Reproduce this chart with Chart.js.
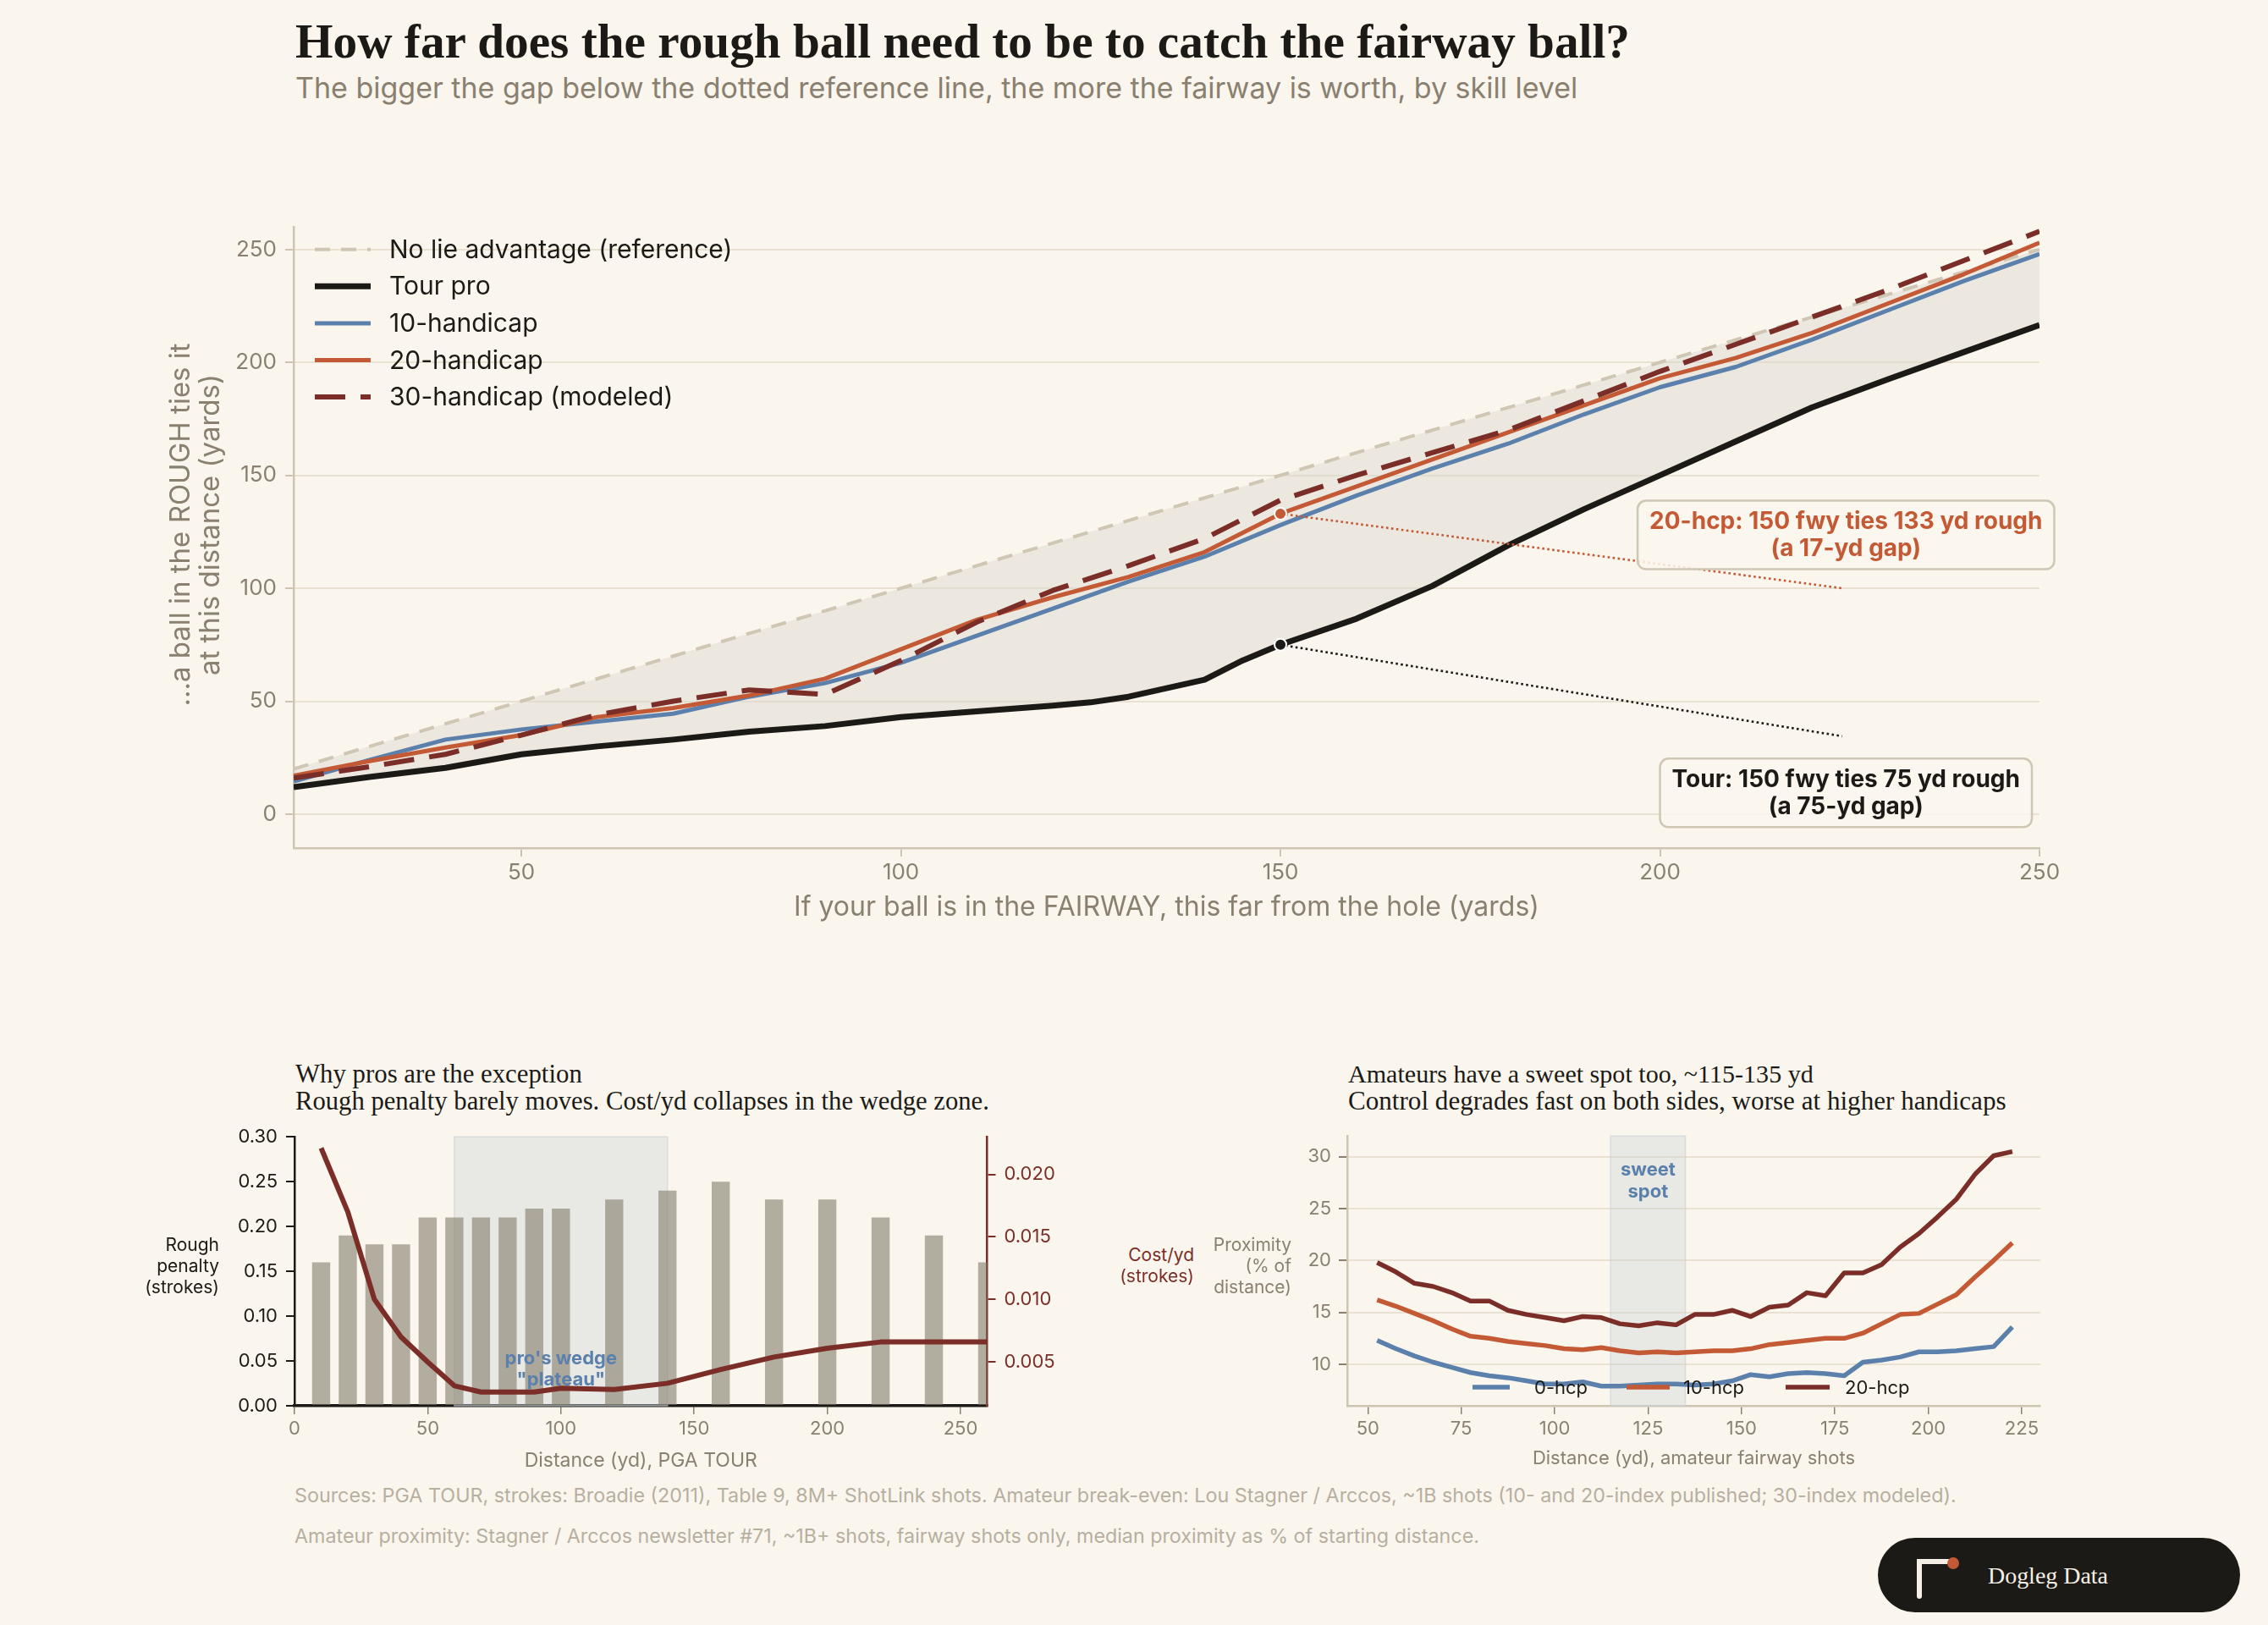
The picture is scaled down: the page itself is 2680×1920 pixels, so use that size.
<!DOCTYPE html>
<html>
<head>
<meta charset="utf-8">
<script src="https://cdn.jsdelivr.net/npm/chart.js@4.4.1/dist/chart.umd.min.js"></script>
<style>
html,body{margin:0;padding:0;background:#FAF6EE;}
#page{position:relative;width:2680px;height:1920px;overflow:hidden;background:#FAF6EE;}
.t{position:absolute;white-space:nowrap;line-height:1;}
canvas{position:absolute;display:block;}
</style>
</head>
<body>
<div id="page">
<canvas id="main" width="2320" height="880" style="left:180px;top:240px;width:2320px;height:880px"></canvas>
<canvas id="pro" width="1200" height="430" style="left:100px;top:1320px;width:1200px;height:430px"></canvas>
<canvas id="amt" width="980" height="430" style="left:1500px;top:1320px;width:980px;height:430px"></canvas>
<div id="logo" style="position:absolute;left:2219px;top:1817px;width:428px;height:88px;border-radius:44px;background:#1C1A16;">
  <svg width="428" height="88" style="position:absolute;left:0;top:0">
    <path d="M49 69 V28 H85" stroke="#F5F0E6" stroke-width="6" fill="none" stroke-linecap="round"/>
    <circle cx="89" cy="30" r="7" fill="#C45A35"/>
  </svg>
</div>
</div>
<script>
// ================= DATA =================
// Main chart: break-even rough distance for each fairway distance
const refX = [20, 250];
const refY = [20, 250];
const tourX = [20,30,40,50,60,70,80,90,100,110,120,125,130,140,145,150,160,170,180,190,200,210,220,230,240,250];
const tourY = [12,16.5,20.5,26.5,30,33,36.5,39,43,45.5,48,49.5,52,59.5,68,75,86.5,101,119,135,150,165,180,192.5,204.5,216.5];
const hcpX = [20,30,40,50,60,70,80,90,100,110,120,130,140,150,160,170,180,190,200,210,220,230,240,250];
const hcp10Y = [14.5,24,33,37.5,41,44.5,52,58,67,79,91,103,114,128,141,153,164,177,189,198,210,223,236,248];
const hcp20Y = [17,23.5,29.5,35,43,47,52.5,60,73,86,96,105,116,133,145,157,169,181,193,202,213,226,239,253];
const hcp30Y = [16,21,26.5,35,44,50,55,53,68,85,99,110,122,139,150,160,170,183,196,208,220,232,245,258];
const mainLabels = ['No lie advantage (reference)','Tour pro','10-handicap','20-handicap','30-handicap (modeled)'];
const mainXTicks = [50,100,150,200,250];
const mainYTicks = [0,50,100,150,200,250];
const mainYTitle = ['...a ball in the ROUGH ties it','at this distance (yards)'];

// Annotations (data units)
const annoSeries = [3, 1];
const annoAtX = [150, 150];
const annoAtY = [133, 75];
const annoTipX = [224, 224];
const annoTipY = [100, 34.5];
const annoBoxX = [224.5, 224.5];
const annoBoxY = [123.6, 9.4];
const annoText = [['20-hcp: 150 fwy ties 133 yd rough','(a 17-yd gap)'],['Tour: 150 fwy ties 75 yd rough','(a 75-yd gap)']];

// Bottom-left: PGA TOUR rough penalty and cost per yard
const proX = [10,20,30,40,50,60,70,80,90,100,120,140,160,180,200,220,240,260];
const roughPenalty = [0.16,0.19,0.18,0.18,0.21,0.21,0.21,0.21,0.22,0.22,0.23,0.24,0.25,0.23,0.23,0.21,0.19,0.16];
const costPerYd = [0.0221,0.0170,0.0100,0.0070,0.0050,0.0031,0.0026,0.0026,0.0026,0.0029,0.0028,0.0033,0.0044,0.0054,0.0061,0.0066,0.0066,0.0066];
const proXTicks = [0,50,100,150,200,250];
const penaltyTicks = [0,0.05,0.10,0.15,0.20,0.25,0.30];
const costTicks = [0.005,0.010,0.015,0.020];
const wedgeZone = [60, 140];
const wedgeLabel = ["pro's wedge", '"plateau"'];

// Bottom-right: amateur proximity as % of distance
const ampX = [52.5,57.5,62.5,67.5,72.5,77.5,82.5,87.5,92.5,97.5,102.5,107.5,112.5,117.5,122.5,127.5,132.5,137.5,142.5,147.5,152.5,157.5,162.5,167.5,172.5,177.5,182.5,187.5,192.5,197.5,202.5,207.5,212.5,217.5,222.5];
const prox0 = [12.3,11.5,10.8,10.2,9.7,9.2,8.9,8.7,8.4,8.1,8.1,8.3,7.9,7.9,8.0,8.1,8.1,8.0,8.1,8.4,9.0,8.8,9.1,9.2,9.1,8.9,10.2,10.4,10.7,11.2,11.2,11.3,11.5,11.7,13.6];
const prox10 = [16.2,15.6,14.9,14.2,13.4,12.7,12.5,12.2,12.0,11.8,11.5,11.4,11.6,11.3,11.1,11.2,11.1,11.2,11.3,11.3,11.5,11.9,12.1,12.3,12.5,12.5,13.0,13.9,14.8,14.9,15.8,16.7,18.4,20.0,21.7];
const prox20 = [19.8,18.9,17.8,17.5,16.9,16.1,16.1,15.2,14.8,14.5,14.2,14.6,14.5,13.9,13.7,14.0,13.8,14.8,14.8,15.2,14.6,15.5,15.7,16.9,16.6,18.8,18.8,19.6,21.3,22.6,24.2,25.9,28.3,30.1,30.5];
const ampLabels = ['0-hcp','10-hcp','20-hcp'];
const ampXTicks = [50,75,100,125,150,175,200,225];
const proxTicks = [10,15,20,25,30];
const sweetSpot = [115, 135];
const sweetLabel = ['sweet', 'spot'];

// ================= STYLE =================
const C = {ink:'#1C1A16', grey:'#8A8070', light:'#B7AF9F', axis:'#CDC4B2', grid:'#E9E1D1', ref:'#CFC6B4',
  fill:'rgba(222,218,210,0.5)', blue:'#5B80AC', orange:'#C45A35', dred:'#7A2E27',
  band:'rgba(208,212,214,0.42)', bandEdge:'rgba(200,208,214,0.6)', bar:'rgba(128,120,104,0.58)'};
const SANS = 'Inter, "Noto Sans", sans-serif';
const SERIF = '"Liberation Serif", "DejaVu Serif", serif';

// ================= HTML TEXT =================
const page = document.getElementById('page');
function addText(o){
  const el = document.createElement('div');
  el.className = 't';
  el.textContent = o.text;
  el.style.fontFamily = o.font || SANS;
  el.style.fontWeight = o.weight || 400;
  el.style.color = o.color;
  el.style.fontSize = o.size + 'px';
  (o.parent || page).appendChild(el);
  if (o.width) {
    const w = el.getBoundingClientRect().width;
    el.style.fontSize = (o.size * o.width / w) + 'px';
  }
  const fs = parseFloat(el.style.fontSize);
  el.style.top = (o.cy - fs * 0.5) + 'px';
  if (o.right !== undefined) {
    const w = el.getBoundingClientRect().width;
    el.style.left = (o.right - w) + 'px';
  } else {
    el.style.left = o.left + 'px';
  }
  return el;
}
addText({text:'How far does the rough ball need to be to catch the fairway ball?', font:SERIF, weight:700, color:C.ink, size:48, width:1577, left:349, cy:49});
addText({text:'The bigger the gap below the dotted reference line, the more the fairway is worth, by skill level', color:C.grey, size:31, width:1516, left:349, cy:104});
addText({text:'Why pros are the exception', font:SERIF, color:C.ink, size:26, width:339, left:349, cy:1269});
addText({text:'Rough penalty barely moves. Cost/yd collapses in the wedge zone.', font:SERIF, color:C.ink, size:26, width:820, left:349, cy:1301});
addText({text:'Amateurs have a sweet spot too, ~115-135 yd', font:SERIF, color:C.ink, size:26, width:550, left:1593, cy:1269});
addText({text:'Control degrades fast on both sides, worse at higher handicaps', font:SERIF, color:C.ink, size:26, width:778, left:1593, cy:1301});
['Rough','penalty','(strokes)'].forEach((s,i)=>addText({text:s, color:C.ink, size:21, right:259, cy:1470+i*25}));
['Cost/yd','(strokes)'].forEach((s,i)=>addText({text:s, color:C.dred, size:21, right:1411, cy:1482+i*25}));
['Proximity','(% of','distance)'].forEach((s,i)=>addText({text:s, color:C.grey, size:21, right:1526, cy:1470+i*25}));
addText({text:'Sources: PGA TOUR, strokes: Broadie (2011), Table 9, 8M+ ShotLink shots. Amateur break-even: Lou Stagner / Arccos, ~1B shots (10- and 20-index published; 30-index modeled).', color:C.light, size:21, width:1965, left:348, cy:1767});
addText({text:'Amateur proximity: Stagner / Arccos newsletter #71, ~1B+ shots, fairway shots only, median proximity as % of starting distance.', color:C.light, size:21, width:1401, left:348, cy:1815});
addText({text:'Dogleg Data', font:SERIF, color:'#F5F0E6', size:27, width:142, left:130, cy:45, parent:document.getElementById('logo')});

// ================= HELPERS =================
const pts = (xs, ys) => xs.map((x,i)=>({x, y:ys[i]}));
const fixTicks = arr => (s => { s.ticks = arr.map(v => ({value:v})); });
const common = {responsive:false, animation:false, devicePixelRatio:1, events:[]};

// ================= MAIN CHART =================
const mainLegend = {
  id:'mainLegend',
  afterDraw(chart){
    const {ctx, chartArea} = chart;
    const x0 = chartArea.left + 25, y0 = chartArea.top + 26.7, dy = 43.6;
    chart.data.datasets.forEach((ds, i) => {
      const y = y0 + i*dy;
      ctx.save();
      ctx.strokeStyle = ds.borderColor; ctx.lineWidth = ds.borderWidth;
      ctx.setLineDash(ds.borderDash || []);
      ctx.beginPath(); ctx.moveTo(x0, y); ctx.lineTo(x0+66, y); ctx.stroke();
      ctx.setLineDash([]);
      ctx.fillStyle = C.ink; ctx.font = '30px ' + SANS; ctx.textBaseline = 'middle'; ctx.textAlign = 'left';
      ctx.fillText(ds.label, x0 + 88, y + 1);
      ctx.restore();
    });
    // y-axis title (two lines, rotated)
    ctx.save();
    ctx.fillStyle = C.grey; ctx.font = '33px ' + SANS; ctx.textAlign = 'center'; ctx.textBaseline = 'middle';
    const cy = (chartArea.top + chartArea.bottom) / 2 - 15;
    [33.6, 69.5].forEach((lx, i) => {
      ctx.save(); ctx.translate(lx, cy); ctx.rotate(-Math.PI/2);
      ctx.fillText(mainYTitle[i], 0, 0); ctx.restore();
    });
    ctx.restore();
  }
};
const mainAnno = {
  id:'mainAnno',
  afterDatasetsDraw(chart){
    const {ctx, scales:{x, y}} = chart;
    annoSeries.forEach((si, k) => {
      const col = chart.data.datasets[si].borderColor;
      const px = x.getPixelForValue(annoAtX[k]), py = y.getPixelForValue(annoAtY[k]);
      const tx = x.getPixelForValue(annoTipX[k]), ty = y.getPixelForValue(annoTipY[k]);
      ctx.save();
      ctx.strokeStyle = col; ctx.lineWidth = 2.6; ctx.setLineDash([2.6, 3.4]);
      ctx.beginPath(); ctx.moveTo(px, py); ctx.lineTo(tx, ty); ctx.stroke();
      ctx.setLineDash([]);
      ctx.beginPath(); ctx.arc(px, py, 7, 0, Math.PI*2);
      ctx.fillStyle = col; ctx.fill(); ctx.lineWidth = 2; ctx.strokeStyle = '#FFFFFF'; ctx.stroke();
      // box
      ctx.font = '700 28px ' + SANS;
      const lines = annoText[k];
      const tw = Math.max(...lines.map(s => ctx.measureText(s).width));
      const bw = tw + 28, bh = 81;
      const cx = x.getPixelForValue(annoBoxX[k]), cy = y.getPixelForValue(annoBoxY[k]);
      ctx.beginPath();
      ctx.roundRect(cx - bw/2, cy - bh/2, bw, bh, 10);
      ctx.fillStyle = 'rgba(250,246,238,0.86)'; ctx.fill();
      ctx.lineWidth = 2.5; ctx.strokeStyle = C.ref; ctx.stroke();
      ctx.fillStyle = col; ctx.textAlign = 'center'; ctx.textBaseline = 'middle';
      lines.forEach((s, j) => ctx.fillText(s, cx, cy - 15.5 + j*32));
      ctx.restore();
    });
  }
};
new Chart(document.getElementById('main'), {
  type:'line',
  data:{datasets:[
    {label:mainLabels[0], data:pts(refX, refY), borderColor:C.ref, borderWidth:4, borderDash:[18,13], order:5, fill:false},
    {label:mainLabels[1], data:pts(tourX, tourY), borderColor:C.ink, borderWidth:7, order:4,
      fill:{target:0, above:C.fill, below:C.fill}, backgroundColor:C.fill},
    {label:mainLabels[2], data:pts(hcpX, hcp10Y), borderColor:C.blue, borderWidth:5, order:3, fill:false},
    {label:mainLabels[3], data:pts(hcpX, hcp20Y), borderColor:C.orange, borderWidth:5, order:2, fill:false},
    {label:mainLabels[4], data:pts(hcpX, hcp30Y), borderColor:C.dred, borderWidth:6, borderDash:[36,18], order:1, fill:false}
  ]},
  options:{...common,
    layout:{padding:{top:28, right:90, left:0, bottom:0}},
    elements:{point:{radius:0}, line:{tension:0, borderJoinStyle:'round', borderCapStyle:'butt'}},
    plugins:{legend:{display:false}, tooltip:{enabled:false}, filler:{drawTime:'beforeDatasetsDraw'}},
    scales:{
      x:{type:'linear', min:20, max:250, afterBuildTicks:fixTicks(mainXTicks), afterFit:s=>{s.height=118;},
        grid:{drawOnChartArea:false, drawTicks:true, tickLength:10, tickColor:C.axis, lineWidth:2},
        border:{display:true, color:C.axis, width:2.5},
        ticks:{color:C.grey, font:{family:SANS, size:26}, padding:4, maxRotation:0},
        title:{display:true, text:'If your ball is in the FAIRWAY, this far from the hole (yards)', color:C.grey,
          font:{family:SANS, size:32}, padding:{top:0, bottom:28}}},
      y:{type:'linear', min:-15, max:260, afterBuildTicks:fixTicks(mainYTicks), afterFit:s=>{s.width=167;},
        grid:{color:C.grid, lineWidth:2, drawTicks:true, tickLength:10, tickColor:C.axis},
        border:{display:true, color:C.axis, width:2.5},
        ticks:{color:C.grey, font:{family:SANS, size:26}, padding:10},
        title:{display:false}}
    }
  },
  plugins:[mainLegend, mainAnno]
});

// ================= PRO CHART =================
const proPlugin = {
  id:'proBand',
  beforeDatasetsDraw(chart){
    const {ctx, chartArea, scales:{x}} = chart;
    const l = x.getPixelForValue(wedgeZone[0]), r = x.getPixelForValue(wedgeZone[1]);
    ctx.save();
    ctx.fillStyle = C.band; ctx.fillRect(l, chartArea.top, r-l, chartArea.bottom-chartArea.top);
    ctx.strokeStyle = C.bandEdge; ctx.lineWidth = 1.5; ctx.strokeRect(l, chartArea.top, r-l, chartArea.bottom-chartArea.top);
    ctx.restore();
  },
  afterDatasetsDraw(chart){
    const {ctx, scales:{x, y}} = chart;
    const cx = x.getPixelForValue((wedgeZone[0]+wedgeZone[1])/2);
    const cy = y.getPixelForValue(0.0525);
    ctx.save();
    ctx.fillStyle = C.blue; ctx.font = '700 22px ' + SANS; ctx.textAlign = 'center'; ctx.textBaseline = 'middle';
    wedgeLabel.forEach((s,i)=>ctx.fillText(s, cx, cy + i*25));
    ctx.restore();
  }
};
new Chart(document.getElementById('pro'), {
  type:'bar',
  data:{datasets:[
    {type:'line', label:'Cost/yd', data:pts(proX, costPerYd), yAxisID:'y1', borderColor:C.dred, borderWidth:6,
      pointRadius:0, tension:0, borderJoinStyle:'round', order:1},
    {type:'bar', label:'Rough penalty', data:pts(proX, roughPenalty), yAxisID:'y', backgroundColor:C.bar,
      barPercentage:0.68, categoryPercentage:1, clip:0, order:2}
  ]},
  options:{...common,
    layout:{padding:{top:10, right:0, left:0, bottom:0}},
    plugins:{legend:{display:false}, tooltip:{enabled:false}},
    scales:{
      x:{type:'linear', min:0, max:260, offset:false, afterBuildTicks:fixTicks(proXTicks), afterFit:s=>{s.height=89;},
        grid:{offset:false, drawOnChartArea:false, drawTicks:true, tickLength:10, tickColor:C.grey, lineWidth:1.5},
        border:{display:true, color:C.ink, width:3.5},
        ticks:{color:C.grey, font:{family:SANS, size:22}, padding:4, maxRotation:0},
        title:{display:true, text:'Distance (yd), PGA TOUR', color:C.grey, font:{family:SANS, size:23}, padding:{top:0, bottom:10}}},
      y:{type:'linear', position:'left', min:0, max:0.30, afterBuildTicks:fixTicks(penaltyTicks), afterFit:s=>{s.width=248;},
        grid:{drawOnChartArea:false, drawTicks:true, tickLength:10, tickColor:C.ink, lineWidth:2},
        border:{display:true, color:C.ink, width:2.5},
        ticks:{color:C.ink, font:{family:SANS, size:22}, padding:10, callback:v=>v.toFixed(2)}},
      y1:{type:'linear', position:'right', min:0.0015, max:0.023, afterBuildTicks:fixTicks(costTicks), afterFit:s=>{s.width=133.5;},
        grid:{drawOnChartArea:false, drawTicks:true, tickLength:10, tickColor:C.dred, lineWidth:2},
        border:{display:true, color:C.dred, width:2.5},
        ticks:{color:C.dred, font:{family:SANS, size:22}, padding:10, callback:v=>v.toFixed(3)}}
    }
  },
  plugins:[proPlugin]
});

// ================= AMATEUR CHART =================
const amtPlugin = {
  id:'amtBand',
  beforeDatasetsDraw(chart){
    const {ctx, chartArea, scales:{x}} = chart;
    const l = x.getPixelForValue(sweetSpot[0]), r = x.getPixelForValue(sweetSpot[1]);
    ctx.save();
    ctx.fillStyle = C.band; ctx.fillRect(l, chartArea.top, r-l, chartArea.bottom-chartArea.top);
    ctx.strokeStyle = C.bandEdge; ctx.lineWidth = 1.5; ctx.strokeRect(l, chartArea.top, r-l, chartArea.bottom-chartArea.top);
    ctx.restore();
  },
  afterDatasetsDraw(chart){
    const {ctx, chartArea, scales:{x, y}} = chart;
    const cx = x.getPixelForValue((sweetSpot[0]+sweetSpot[1])/2);
    const cy = y.getPixelForValue(28.7);
    ctx.save();
    ctx.fillStyle = C.blue; ctx.font = '700 22px ' + SANS; ctx.textAlign = 'center'; ctx.textBaseline = 'middle';
    sweetLabel.forEach((s,i)=>ctx.fillText(s, cx, cy + i*25.5));
    // legend
    const lx = [148, 330, 518], le = [192, 381, 570], tx = [221, 397, 588];
    const ly = chartArea.top + 296.7;
    chart.data.datasets.forEach((ds, i) => {
      ctx.strokeStyle = ds.borderColor; ctx.lineWidth = 5.5;
      ctx.beginPath(); ctx.moveTo(chartArea.left + lx[i], ly); ctx.lineTo(chartArea.left + le[i], ly); ctx.stroke();
      ctx.fillStyle = C.ink; ctx.font = '22px ' + SANS; ctx.textAlign = 'left';
      ctx.fillText(ds.label, chartArea.left + tx[i], ly + 1);
    });
    ctx.restore();
  }
};
new Chart(document.getElementById('amt'), {
  type:'line',
  data:{datasets:[
    {label:ampLabels[0], data:pts(ampX, prox0), borderColor:C.blue, borderWidth:5.5},
    {label:ampLabels[1], data:pts(ampX, prox10), borderColor:C.orange, borderWidth:5.5},
    {label:ampLabels[2], data:pts(ampX, prox20), borderColor:C.dred, borderWidth:5.5}
  ]},
  options:{...common,
    layout:{padding:{top:10, right:69, left:0, bottom:0}},
    elements:{point:{radius:0}, line:{tension:0, borderJoinStyle:'round'}},
    plugins:{legend:{display:false}, tooltip:{enabled:false}},
    scales:{
      x:{type:'linear', min:44.5, max:230, afterBuildTicks:fixTicks(ampXTicks), afterFit:s=>{s.height=89;},
        grid:{drawOnChartArea:false, drawTicks:true, tickLength:10, tickColor:C.grey, lineWidth:1.5},
        border:{display:true, color:C.axis, width:2.5},
        ticks:{color:C.grey, font:{family:SANS, size:22}, padding:4, maxRotation:0},
        title:{display:true, text:'Distance (yd), amateur fairway shots', color:C.grey, font:{family:SANS, size:22}, padding:{top:0, bottom:13}}},
      y:{type:'linear', min:6, max:32, afterBuildTicks:fixTicks(proxTicks), afterFit:s=>{s.width=92;},
        grid:{color:C.grid, lineWidth:2, drawTicks:true, tickLength:10, tickColor:C.grey},
        border:{display:true, color:C.axis, width:2.5},
        ticks:{color:C.grey, font:{family:SANS, size:22}, padding:9}}
    }
  },
  plugins:[amtPlugin]
});
</script>
</body>
</html>
